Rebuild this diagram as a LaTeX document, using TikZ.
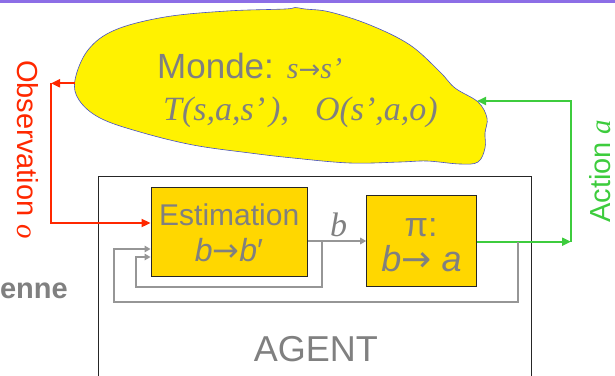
\documentclass[tikz,border=0pt]{standalone}
\usepackage{fontspec}
\setmainfont{Liberation Sans}
\newfontfamily\tnr{Liberation Serif}
\newfontfamily\djv{DejaVu Sans}
\usetikzlibrary{arrows.meta}
\definecolor{txtgrey}{RGB}{128,128,128}
\definecolor{lngrey}{RGB}{150,150,150}
\definecolor{boxgold}{RGB}{255,215,0}
\definecolor{obsred}{RGB}{255,40,0}
\definecolor{actgreen}{RGB}{61,204,61}
\definecolor{barpurple}{RGB}{140,110,230}
\definecolor{cloudblue}{RGB}{70,80,200}
\newcommand\fsz[1]{\fontsize{#1}{#1}\selectfont}
\tikzset{
  ybox/.style={draw=black!85, line width=1pt, fill=boxgold, inner sep=0pt},
  agentbox/.style={draw=black!85, line width=0.9pt, inner sep=0pt},
  tx/.style={text=txtgrey, inner sep=0pt},
  bigtip/.style={-{Triangle[length=9pt,width=8pt]}},
  smalltip/.style={-{Triangle[length=6pt,width=6.5pt]}},
  redln/.style={draw=obsred, line width=2pt, bigtip},
  greenln/.style={draw=actgreen, line width=2pt, bigtip},
  greyln/.style={draw=lngrey, line width=2pt, smalltip},
}
\begin{document}
\begin{tikzpicture}[x=1pt,y=-1pt]
\useasboundingbox (0,0) rectangle (615,375);
\fill[barpurple] (0,0) rectangle (615,2.7);

% agent container
\node[agentbox, minimum width=433.5pt, minimum height=201pt, anchor=north west] (agent) at (97.5,176) {};

% world cloud
\filldraw[fill=yellow, draw=cloudblue, line width=0.6pt]
  plot[smooth cycle, tension=0.6] coordinates {
  (75,80) (79,100) (100,118) (140,132) (193,145) (250,153) (293,158) (350,163)
  (400,162) (427,161) (460,164) (478,162) (485,148) (485,133) (487,118) (478,102)
  (455,88) (440,72) (410,45) (370,25) (330,12) (305,9) (295,7.5) (285,9)
  (227,11) (165,17) (115,30) (88,50)};

% boxes
\node[ybox, minimum width=156.7pt, minimum height=88.7pt] (est) at (229.4,232.3) {};
\node[ybox, minimum width=110pt, minimum height=91.7pt] (pi) at (421.7,240.9) {};

% texts
\node[tx, anchor=base west] (monde) at (157,78) {\fsz{35}Monde: {\tnr\itshape\fsz{30}s{\djv\upshape\fsz{26}→}s’}};
\node[tx, anchor=base west] (trans) at (163,120) {\fsz{34}\tnr\itshape T(s,a,s’\kern4pt),\hspace{26pt}O(s’,a,o)};
\node[tx, anchor=base] (esttxt) at (229.2,225) {\fsz{30}Estimation};
\node[tx, anchor=base] (estfx) at (229,261.7) {\fsz{32}\textit{b}{\djv→}\textit{b}′};
\node[tx, anchor=base] (pitxt) at (421,236.7) {\fsz{34}π:};
\node[tx, anchor=base] (pifx) at (421.5,271.7) {\fsz{36}\textit{b}{\djv→} \textit{a}};
\node[tx, anchor=base] (agtxt) at (315.8,361.7) {\fsz{36}AGENT};
\node[tx, anchor=base west] (blab) at (330,236.7) {\fsz{34}\tnr\itshape b};
\node[tx, anchor=base east] (enne) at (68,298) {\fsz{29}\bfseries enne};
\node[text=obsred, inner sep=0pt, rotate=-90, anchor=base west] (obs) at (17,60) {\fsz{29}Observation {\tnr\itshape o}};
\node[text=actgreen, inner sep=0pt, rotate=90, anchor=base west] (act) at (610,223) {\fsz{29}Action {\tnr\itshape a}};

% coordinates
\coordinate (obsout) at (75,83.3);
\coordinate (obscorner) at (51,83.3);
\coordinate (obsin) at (0,223);
\coordinate (gy) at (0,241.7);
\coordinate (actcorner) at (571,241.7);
\coordinate (actin) at (477,101);
\coordinate (by) at (0,241);
\coordinate (j1) at (321.7,241);
\coordinate (l1) at (135.6,287.3);
\coordinate (in1) at (0,257);
\coordinate (j2) at (518,241.7);
\coordinate (l2) at (114,301.7);
\coordinate (in2) at (0,249);

% connectors
\draw[redln] (obsout) -- (obscorner);
\draw[redln] (obscorner) |- (est.west |- obsin);
\draw[greenln] (pi.east |- gy) -- (actcorner);
\draw[greenln] (actcorner) |- (actin);
\draw[greyln] (est.east |- by) -- (pi.west |- by);
\draw[greyln] (j1) |- (l1) |- (est.west |- in1);
\draw[greyln] (j2) |- (l2) |- (est.west |- in2);
\end{tikzpicture}
\end{document}
